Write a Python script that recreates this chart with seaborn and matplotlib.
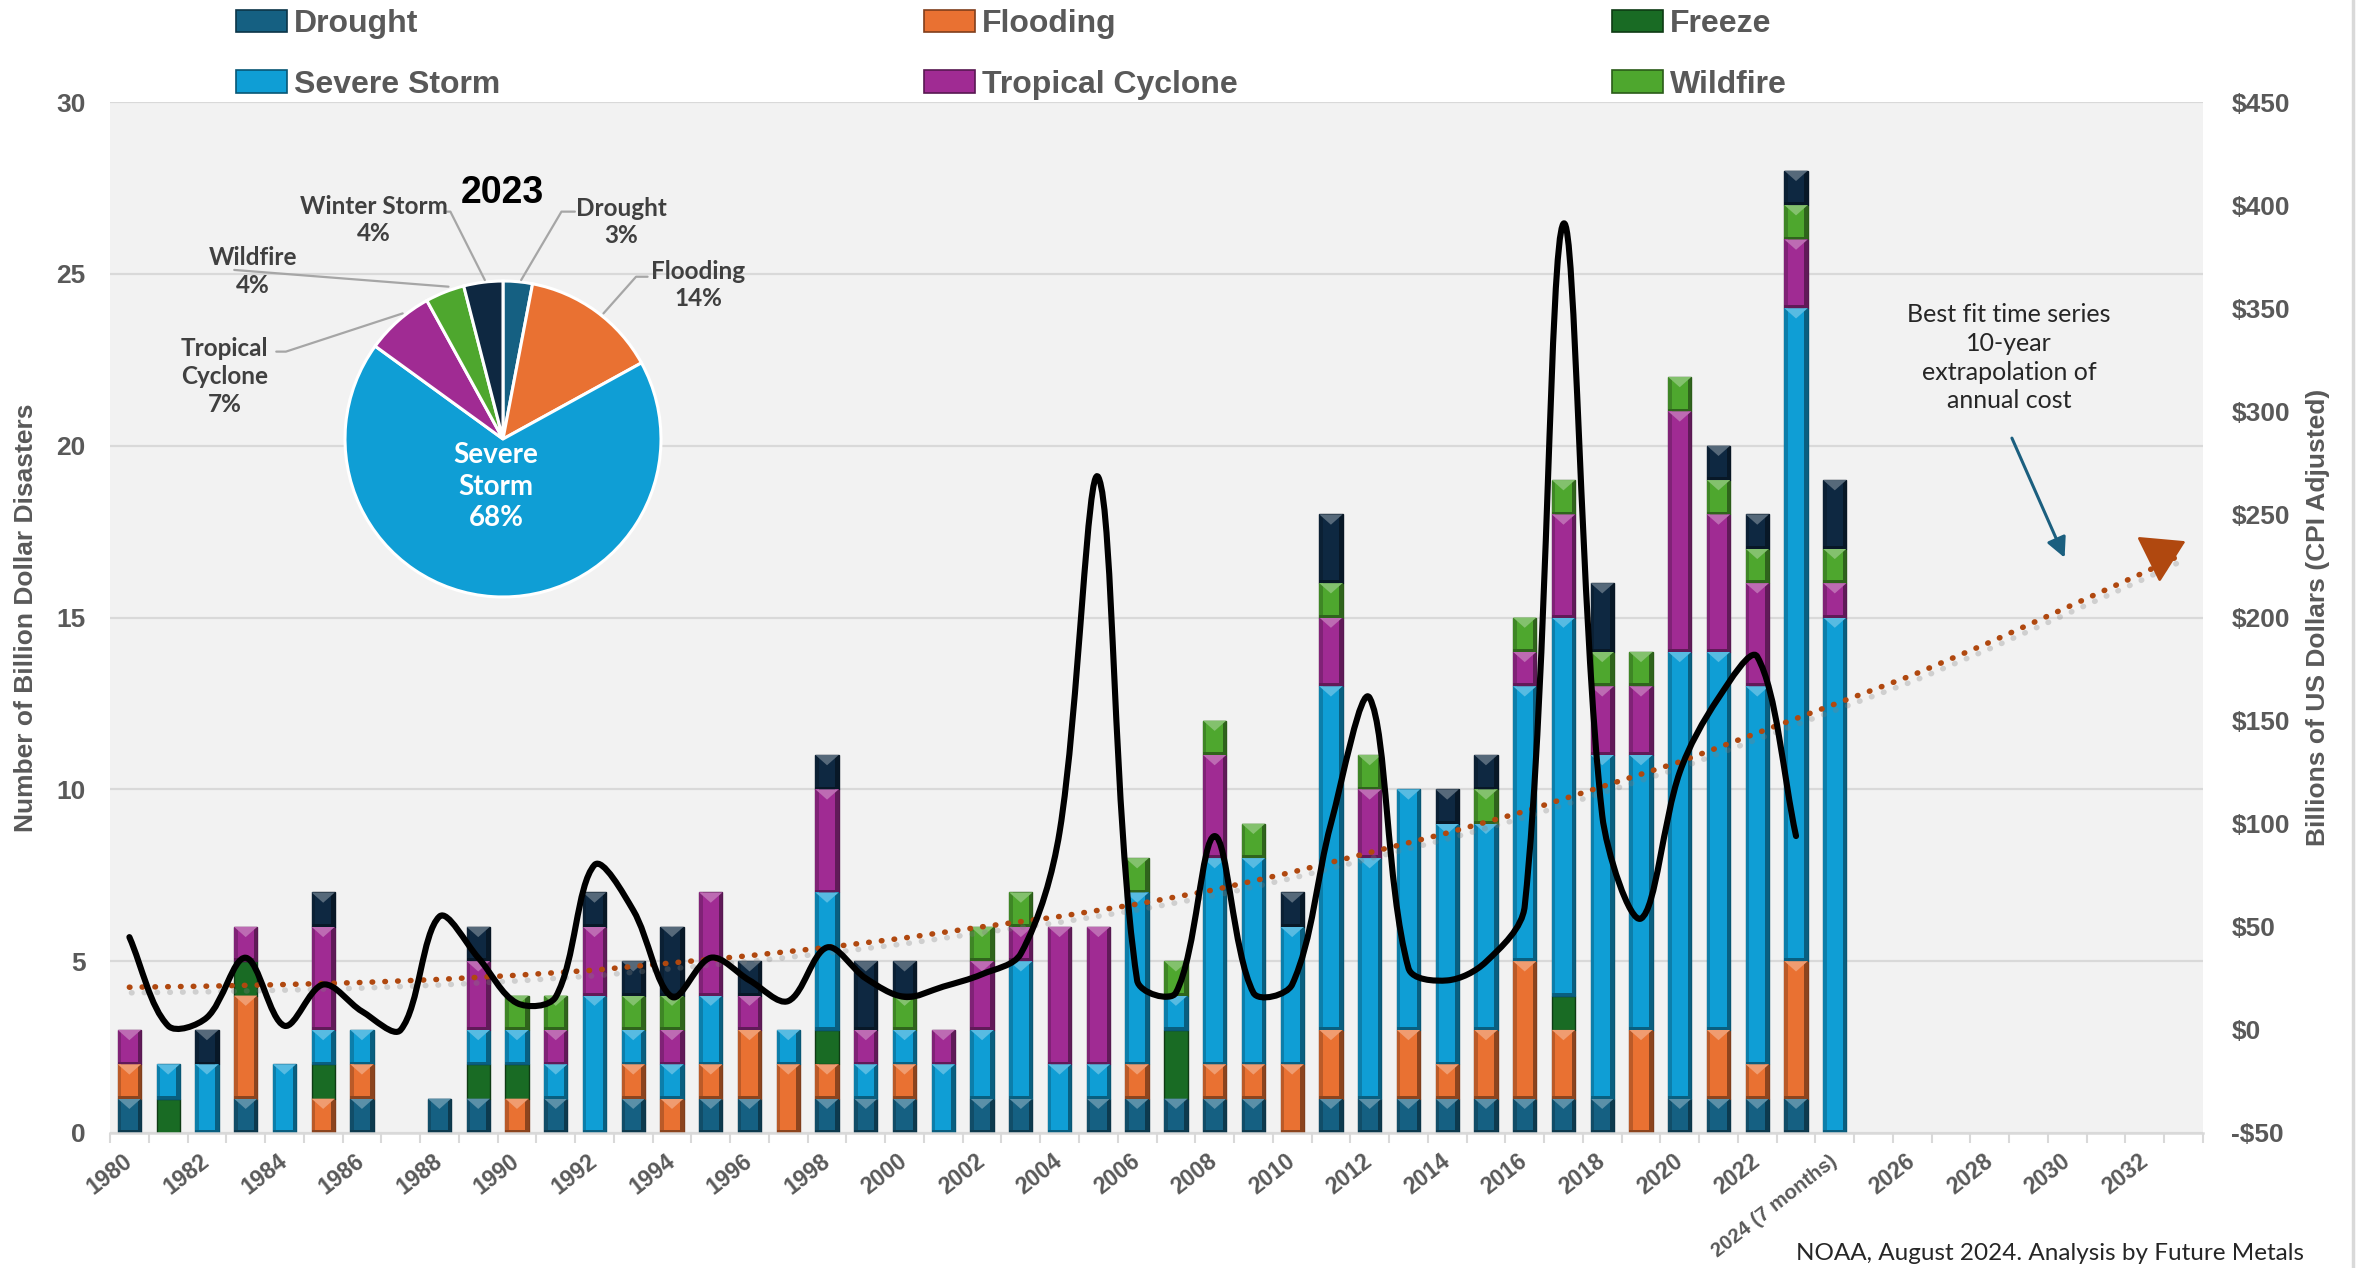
import numpy as np
import pandas as pd
import matplotlib
matplotlib.use("Agg")
import matplotlib.pyplot as plt
import seaborn as sns
import matplotlib.colors as mcolors
from matplotlib.path import Path
from matplotlib.patches import PathPatch, Patch, Rectangle, Polygon
from matplotlib.lines import Line2D
from matplotlib import patheffects as pe

# ---------------- data ----------------
years = list(range(1980, 2025))
drought  = [1,0,0,1,0,0,1,0,1,1, 0,1,0,1,0,1,1,0,1,1, 1,0,1,1,0,1,1,1,1,1, 0,1,1,1,1,1,1,1,1,0, 1,1,1,1,0]
flooding = [1,0,0,3,0,1,1,0,0,0, 1,0,0,1,1,1,2,2,1,0, 1,0,0,0,0,0,1,0,1,1, 2,2,0,2,1,2,4,2,0,3, 0,2,1,4,0]
freeze   = [0,1,0,1,0,1,0,0,0,1, 1,0,0,0,0,0,0,0,1,0, 0,0,0,0,0,0,0,2,0,0, 0,0,0,0,0,0,0,1,0,0, 0,0,0,0,0]
severe   = [0,1,2,0,2,1,1,0,0,1, 1,1,4,1,1,2,0,1,4,1, 1,2,2,4,2,1,5,1,6,6, 4,10,7,7,7,6,8,11,10,8, 13,11,11,19,15]
tropical = [1,0,0,1,0,3,0,0,0,2, 0,1,2,0,1,3,1,0,3,1, 0,1,2,1,4,4,0,0,3,0, 0,2,2,0,0,0,1,3,2,2, 7,4,3,2,1]
wildfire = [0,0,0,0,0,0,0,0,0,0, 1,1,0,1,1,0,0,0,0,0, 1,0,1,1,0,0,1,1,1,1, 0,1,1,0,0,1,1,1,1,1, 1,1,1,1,1]
winter   = [0,0,1,0,0,1,0,0,0,1, 0,0,1,1,2,0,1,0,1,2, 1,0,0,0,0,0,0,0,0,0, 1,2,0,0,1,1,0,0,2,0, 0,1,1,1,2]

cost_years = list(range(1980, 2024))
cost_vals = [45, 2, 6, 35, 2, 22, 9, 0, 55, 35,
             13, 16, 80, 58, 16, 35, 24, 14, 40, 25,
             16, 21, 27, 37, 96, 268, 24, 18, 94, 18,
             22, 100, 161, 30, 24, 33, 60, 391, 104, 54,
             125, 161, 181, 94]

trend_years = [1980, 1982, 1984, 1986, 1988, 1990, 1992, 1994, 1996, 1998, 2000, 2002, 2004, 2006,
               2008, 2010, 2012, 2014, 2016, 2018, 2020, 2022, 2024, 2026, 2028, 2030, 2032, 2033]
trend_vals = [20.7, 21.2, 22, 23, 24.5, 26.5, 29, 32.5, 36, 40, 44.6, 50, 55, 61,
              68, 76.5, 86, 95.5, 106, 118, 130, 144, 158, 172, 188, 205, 222, 231]

xtick_years = list(range(1980, 2033, 2))
xtick_labels = [str(y) if y != 2024 else "2024 (7 months)" for y in xtick_years]
left_ticks = [0, 5, 10, 15, 20, 25, 30]
right_ticks = [-50, 0, 50, 100, 150, 200, 250, 300, 350, 400, 450]
right_labels = ["-$50", "$0", "$50", "$100", "$150", "$200", "$250", "$300", "$350", "$400", "$450"]

pie_labels = ["Drought", "Flooding", "Severe Storm", "Tropical Cyclone", "Wildfire", "Winter Storm"]
pie_pct = [3, 14, 68, 7, 4, 4]

types = ["Drought", "Flooding", "Freeze", "Severe Storm", "Tropical Cyclone", "Wildfire", "Winter Storm"]
palette = {"Drought": "#156082", "Flooding": "#E97132", "Freeze": "#196B24",
           "Severe Storm": "#0F9ED5", "Tropical Cyclone": "#A02B93",
           "Wildfire": "#4EA72E", "Winter Storm": "#0E2841"}

# ---------------- style ----------------
sns.set_theme(style="white")
plt.rcParams["font.family"] = ["Liberation Sans", "DejaVu Sans"]
GRAY = "#595959"
GRID = "#d9d9d9"

W, H = 2356, 1268
fig = plt.figure(figsize=(W / 100, H / 100), dpi=100)
fig.patch.set_facecolor("white")
L, R, B, T = 110 / W, 2203 / W, 1 - 1133 / H, 1 - 102 / H
ax = fig.add_axes([L, B, R - L, T - B])
ax.set_facecolor("#f2f2f2")
ax.set_axisbelow(True)

# stacked bars through seaborn
series = [drought, flooding, freeze, severe, tropical, wildfire, winter]
rows = [(y, t, c) for t, s in zip(types, series) for y, c in zip(years, s) if c > 0]
df = pd.DataFrame(rows, columns=["year", "type", "count"])
hue_order = types[::-1]  # seaborn stacks the first level on top
sns.histplot(data=df, x="year", weights="count", hue="type", hue_order=hue_order,
             multiple="stack", discrete=True, shrink=0.6, palette=palette,
             alpha=1, linewidth=0, legend=False, ax=ax)

freeze_rgb = np.array(mcolors.to_rgb(palette["Freeze"]))
bar_patches = list(ax.patches)
for p in bar_patches:
    if p.get_height() <= 0:
        p.set_visible(False)
        continue
    fc = np.array(mcolors.to_rgb(p.get_facecolor()))
    p.set_edgecolor(tuple(fc * 0.55))
    p.set_linewidth(1.0)
    if np.allclose(fc, freeze_rgb, atol=0.02):
        continue
    # simple bevel look
    x, y, w, h = p.get_x(), p.get_y(), p.get_width(), p.get_height()
    z = p.get_zorder() + 0.01
    ax.add_patch(Rectangle((x, y), w * 0.15, h, fc=tuple(fc * 0.8), lw=0, zorder=z))
    ax.add_patch(Rectangle((x + w * 0.85, y), w * 0.15, h, fc=tuple(fc * 0.6), lw=0, zorder=z))
    th = min(0.3, h * 0.35)
    ax.add_patch(Polygon([(x, y + h), (x + w, y + h), (x + w * 0.5, y + h - th)], closed=True,
                         fc=tuple(fc + (1 - fc) * 0.3), lw=0, zorder=z))
    ax.add_patch(Rectangle((x, y), w, min(0.08, h * 0.1), fc=tuple(fc * 0.6), lw=0, zorder=z))

ax.set_xlim(1979.5, 2033.5)
ax.set_ylim(0, 30)
ax.set_yticks(left_ticks)
ax.set_yticklabels([str(v) for v in left_ticks])
ax.yaxis.grid(True, color=GRID, lw=1.6)
ax.xaxis.grid(False)
for s in ["left", "right", "top"]:
    ax.spines[s].set_visible(False)
ax.spines["bottom"].set_color(GRID)
ax.spines["bottom"].set_linewidth(1.8)
ax.set_xticks(xtick_years)
ax.set_xticklabels(xtick_labels, rotation=38, ha="right", va="center", rotation_mode="anchor",
                   fontsize=16.5, fontweight="bold", color=GRAY)
for lbl in ax.get_xticklabels():
    if "months" in lbl.get_text():
        lbl.set_fontsize(14.5)
ax.set_xticks(np.arange(1979.5, 2034, 1), minor=True)
ax.tick_params(axis="x", which="major", length=0, pad=18.5, bottom=True)
ax.tick_params(axis="x", which="minor", length=7, width=1.5, color=GRID, bottom=True, direction="out")
ax.tick_params(axis="y", which="both", length=0, pad=17.5, labelsize=19, labelcolor=GRAY)
for lbl in ax.get_yticklabels():
    lbl.set_fontweight("bold")
ax.set_xlabel("")
ax.set_ylabel("Number of Billion Dollar Disasters", fontsize=19, fontweight="bold", color=GRAY)
ax.yaxis.set_label_coords((26 - 110) / 2093, 0.5)
ax.yaxis.label.set_va("center")

# secondary axis: cost
ax2 = ax.twinx()
ax2.set_position([L, B, R - L, T - B])
ax2.set_ylim(-50, 450)
ax2.set_xlim(1979.5, 2033.5)
ax2.set_yticks(right_ticks)
ax2.set_yticklabels(right_labels)
ax2.tick_params(axis="y", length=0, pad=20.5, labelsize=19, labelcolor=GRAY)
for lbl in ax2.get_yticklabels():
    lbl.set_fontweight("bold")
    lbl.set_ha("left")
for s in ax2.spines.values():
    s.set_visible(False)
ax2.grid(False)
ax2.set_ylabel("Billions of US Dollars (CPI Adjusted)", fontsize=19, fontweight="bold", color=GRAY)
ax2.yaxis.set_label_coords((2318 - 110) / 2093, 0.5)
ax2.yaxis.label.set_va("center")
ax2.yaxis.label.set_rotation(90)

# trend (dotted, with shadow)
TREND = "#B0480F"
sns.lineplot(x=trend_years, y=trend_vals, ax=ax2, color=TREND, lw=4,
             linestyle=(0, (0.1, 2.2)), dash_capstyle="round",
             path_effects=[pe.SimpleLineShadow(offset=(1.5, -4), shadow_color="#7f7f7f", alpha=0.3),
                           pe.Normal()])
ax2.annotate("", xy=(2033.05, 237), xytext=(2032.35, 230.5),
             arrowprops=dict(arrowstyle="-|>,head_length=0.9,head_width=0.55", color=TREND,
                             lw=2, mutation_scale=30, shrinkA=0, shrinkB=0))

# smoothed cost line (Excel-like bezier smoothing)
pts = ax2.transData.transform(np.column_stack([cost_years, cost_vals]).astype(float))
n = len(pts)
verts = [pts[0]]
codes = [Path.MOVETO]
tension = 1 / 3
for i in range(n - 1):
    p0 = pts[i - 1] if i > 0 else pts[i]
    p1 = pts[i]
    p2 = pts[i + 1]
    p3 = pts[i + 2] if i + 2 < n else pts[i + 1]
    d01 = np.hypot(*(p1 - p0)); d12 = np.hypot(*(p2 - p1)); d23 = np.hypot(*(p3 - p2))
    f1 = tension * d12 / (d01 + d12) if d01 + d12 > 0 else 0
    f2 = tension * d12 / (d12 + d23) if d12 + d23 > 0 else 0
    c1 = p1 + (p2 - p0) * f1
    c2 = p2 - (p3 - p1) * f2
    verts += [c1, c2, p2]
    codes += [Path.CURVE4] * 3
dverts = ax2.transData.inverted().transform(np.array(verts))
ax2.add_patch(PathPatch(Path(dverts, codes), fill=False, ec="black", lw=4.4,
                        capstyle="round", joinstyle="round", transform=ax2.transData, zorder=5))

# annotation
ax2.text(2028.5, 326, "Best fit time series\n10-year\nextrapolation of\nannual cost",
         ha="center", va="center", fontsize=18, family=["Lato", "DejaVu Sans"],
         color="#262626", linespacing=1.3)
ax2.annotate("", xy=(2029.93, 229), xytext=(2028.57, 287),
             arrowprops=dict(arrowstyle="-|>,head_length=0.6,head_width=0.3", color="#1b5f7f",
                             lw=2.2, mutation_scale=20, shrinkA=0, shrinkB=0))

# legend (three columns)
leg_cols = [(["Drought", "Severe Storm"], 236 / W),
            (["Flooding", "Tropical Cyclone"], 924 / W),
            (["Freeze", "Wildfire"], 1612 / W)]
for labels, xf in leg_cols:
    handles = [Patch(facecolor=palette[l], edgecolor=tuple(np.array(mcolors.to_rgb(palette[l])) * 0.55),
                     lw=1.2, label=l) for l in labels]
    fig.legend(handles=handles, loc="upper left", bbox_to_anchor=(xf, 0.9929),
               bbox_transform=fig.transFigure, frameon=False,
               prop=dict(family="Liberation Sans", weight="bold", size=23),
               labelcolor=GRAY, handlelength=1.6, handleheight=0.69, handletextpad=0.2,
               labelspacing=0.96, borderpad=0, borderaxespad=0)

# pie inset (2023)
cx, cy, r = 503, 439, 158
axp = fig.add_axes([(cx - r) / W, 1 - (cy + r) / H, 2 * r / W, 2 * r / H])
axp.pie(pie_pct, colors=[palette[l] for l in pie_labels], startangle=90, counterclock=False,
        wedgeprops=dict(edgecolor="white", linewidth=2.2))
axp.set_xlim(-1, 1); axp.set_ylim(-1, 1); axp.set_aspect("equal"); axp.axis("off")
PF = ["Lato", "DejaVu Sans"]
PC = "#404040"
axp.text(-0.006, 1.557, "2023", ha="center", va="center", fontsize=27, fontweight="bold",
         color="black", family=["Liberation Sans", "DejaVu Sans"])
pie_txt = [("Winter Storm\n4%", -0.816, 1.386), ("Drought\n3%", 0.748, 1.373),
           ("Flooding\n14%", 1.234, 0.975), ("Wildfire\n4%", -1.585, 1.059),
           ("Tropical\nCyclone\n7%", -1.762, 0.394)]
for s, x, y in pie_txt:
    axp.text(x, y, s, ha="center", va="center", fontsize=17.5, fontweight="bold",
             color=PC, family=PF, linespacing=1.25)
axp.text(-0.044, -0.302, "Severe\nStorm\n68%", ha="center", va="center", fontsize=20,
         fontweight="bold", color="white", family=PF, linespacing=1.25)
leaders = [[(-0.369, 1.439), (-0.333, 1.439), (-0.115, 1.006)],
           [(0.455, 1.439), (0.370, 1.439), (0.115, 1.006)],
           [(0.915, 1.027), (0.842, 1.027), (0.636, 0.795)],
           [(-1.701, 1.070), (-0.345, 0.964)],
           [(-1.435, 0.553), (-1.374, 0.553), (-0.635, 0.795)]]
for ln in leaders:
    xs, ys = zip(*ln)
    axp.plot(xs, ys, color="#a6a6a6", lw=1.6, clip_on=False)

# frame edge and source
fig.add_artist(Line2D([2353 / W, 2353 / W], [0, 1], transform=fig.transFigure, color=GRID, lw=2.5))
fig.text(1796 / W, 4 / H, "NOAA, August 2024. Analysis by Future Metals", ha="left", va="bottom",
         fontsize=17.5, family=["Lato", "DejaVu Sans"], color="#262626")

fig.savefig("out.png", dpi=100)
